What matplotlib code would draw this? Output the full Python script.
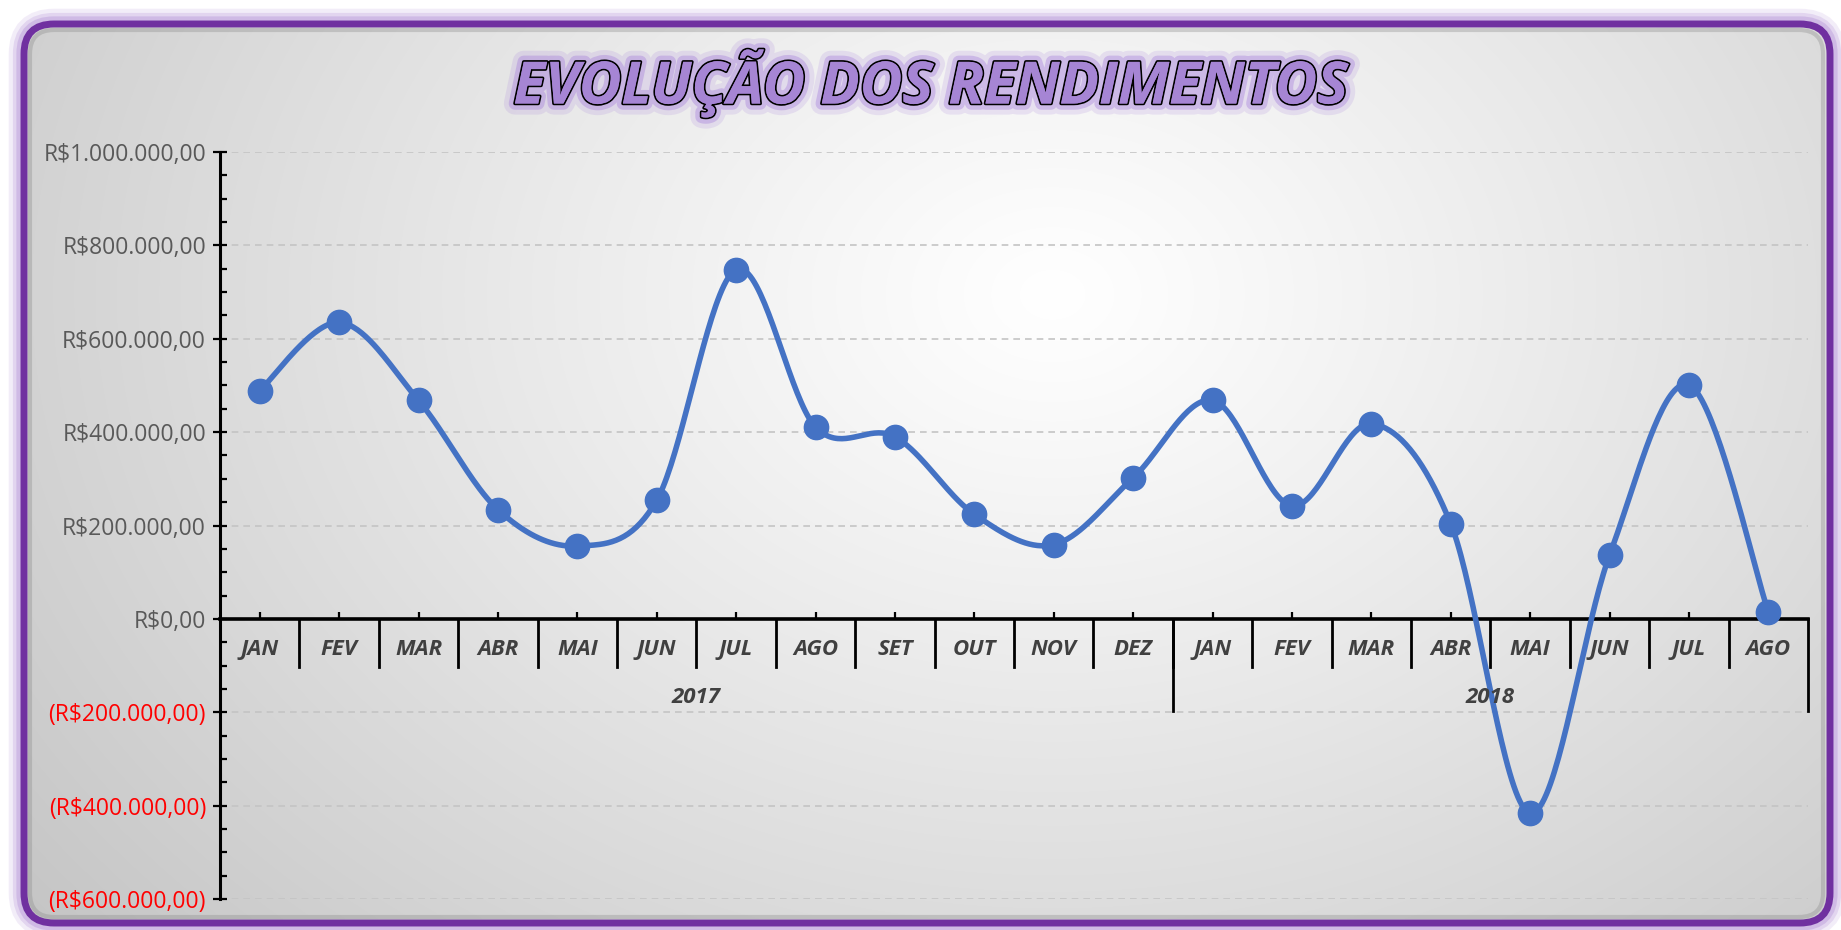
import matplotlib.pyplot as plt
import matplotlib.patheffects as pe
from matplotlib.patches import FancyBboxPatch
from matplotlib.ticker import MultipleLocator, FixedLocator, FuncFormatter
import numpy as np

# dados
meses = ["JAN", "FEV", "MAR", "ABR", "MAI", "JUN", "JUL", "AGO", "SET", "OUT", "NOV", "DEZ",
         "JAN", "FEV", "MAR", "ABR", "MAI", "JUN", "JUL", "AGO"]
anos = ["2017", "2018"]
meses_por_ano = [12, 8]
rendimentos = [489000, 635000, 468000, 234000, 156000, 254000, 748000, 411000, 390000, 224000,
               159000, 302000, 468000, 242000, 418000, 204000, -416000, 136000, 501000, 15000]

plt.rcParams["font.family"] = "Open Sans"

W, H = 1841, 930
fig = plt.figure(figsize=(W / 100, H / 100), dpi=100)
fig.patch.set_facecolor("white")

# fundo: moldura roxa arredondada + painel em degrade
bg = fig.add_axes([0, 0, 1, 1])
bg.set_xlim(0, W)
bg.set_ylim(H, 0)
bg.axis("off")

for lw, a in [(22, 0.12), (16, 0.18), (11, 0.25)]:
    bg.add_patch(FancyBboxPatch((24, 24), 1806, 899, boxstyle="round,pad=0,rounding_size=30",
                                fill=False, edgecolor="#9A6CCB", lw=lw, alpha=a))

painel = FancyBboxPatch((27, 27), 1800, 893, boxstyle="round,pad=0,rounding_size=26",
                        facecolor="#dcdcdc", edgecolor="none", zorder=1)
bg.add_patch(painel)

gy, gx = np.mgrid[0:1:300j, 0:1:600j]
d = np.sqrt(((gx - 0.57) / 0.62) ** 2 + ((gy - 0.3) / 0.95) ** 2)
val = 1.0 - 0.19 * np.clip(d, 0, 1.2) ** 1.1
img = bg.imshow(np.dstack([val, val, val]), extent=(27, 1827, 920, 27), origin="upper",
                aspect="auto", interpolation="bilinear", zorder=2)
img.set_clip_path(painel)

# sombra interna do painel
bg.add_patch(FancyBboxPatch((30, 30), 1793, 887, boxstyle="round,pad=0,rounding_size=24",
                            fill=False, edgecolor="#8a8a8a", lw=3, alpha=0.35, zorder=3))
bg.add_patch(FancyBboxPatch((24, 24), 1806, 899, boxstyle="round,pad=0,rounding_size=30",
                            fill=False, edgecolor="#7030A0", lw=5, zorder=4))

# titulo
fig.text(931 / W, 1 - 84 / H, "EVOLUÇÃO DOS RENDIMENTOS", ha="center", va="center",
         fontsize=42, fontweight="bold", fontstyle="italic",
         color="#A685D4",
         path_effects=[pe.withStroke(linewidth=16, foreground=(0.62, 0.45, 0.85, 0.16)),
                       pe.withStroke(linewidth=9, foreground=(0.62, 0.45, 0.85, 0.35)),
                       pe.withStroke(linewidth=2.5, foreground="black"),
                       pe.Normal()])

# area do grafico
left, right, top, bottom = 220, 1808, 152, 899
ax = fig.add_axes([left / W, 1 - bottom / H, (right - left) / W, (bottom - top) / H])
ax.set_facecolor("none")

n = len(rendimentos)
xs = np.arange(n)
ys = np.array(rendimentos, dtype=float)

# curva suavizada (bezier estilo Excel / Catmull-Rom)
pts = np.column_stack([xs, ys])
curva = []
t = np.linspace(0, 1, 40)[:, None]
for i in range(n - 1):
    p0 = pts[max(i - 1, 0)]
    p1 = pts[i]
    p2 = pts[i + 1]
    p3 = pts[min(i + 2, n - 1)]
    c1 = p1 + (p2 - p0) / 6
    c2 = p2 - (p3 - p1) / 6
    seg = (1 - t) ** 3 * p1 + 3 * (1 - t) ** 2 * t * c1 + 3 * (1 - t) * t ** 2 * c2 + t ** 3 * p2
    curva.append(seg if i == 0 else seg[1:])
curva = np.vstack(curva)

ax.plot(curva[:, 0], curva[:, 1], color="#4472C4", lw=4.0, zorder=4, solid_capstyle="round")
ax.plot(xs, ys, "o", color="#4472C4", ms=17.5, zorder=5)

ax.set_xlim(-0.5, n - 0.5)
ax.set_ylim(-600000, 1000000)

# eixo y
ax.yaxis.set_major_locator(MultipleLocator(200000))
ax.yaxis.set_minor_locator(MultipleLocator(50000))


def moeda(v, pos=None):
    s = f"{abs(v):,.2f}".replace(",", "X").replace(".", ",").replace("X", ".")
    return f"(R${s})" if v < 0 else f"R${s}"


ax.yaxis.set_major_formatter(FuncFormatter(moeda))
ax.tick_params(axis="y", which="major", direction="inout", length=10, width=1.6,
               labelsize=16.5, labelcolor="#595959", pad=5)
ax.tick_params(axis="y", which="minor", direction="in", length=5, width=1.6)
ax.grid(axis="y", which="major", color="#c4c4c4", ls=(0, (4, 3)), lw=1.2)

for sp in ["top", "right"]:
    ax.spines[sp].set_visible(False)
ax.spines["left"].set_linewidth(2.2)
ax.spines["bottom"].set_position(("data", 0))
ax.spines["bottom"].set_linewidth(2.6)
ax.spines["bottom"].set_zorder(3)

# eixo x: marcas nos centros, rotulos desenhados a mao
ax.xaxis.set_major_locator(FixedLocator(xs))
ax.tick_params(axis="x", which="major", direction="in", length=5, width=1.6, labelbottom=False)

py = 1600000 / (bottom - top)  # valor por pixel
for i, m in enumerate(meses):
    ax.text(i, -31 * py, m, ha="center", va="center", fontsize=16, fontweight="bold",
            fontstyle="italic", color="#404040", zorder=6)
for i in range(1, n):
    ax.plot([i - 0.5, i - 0.5], [0, -48 * py], color="black", lw=2, clip_on=False, zorder=3)

ini = 0
limites = [-0.5]
for ano, k in zip(anos, meses_por_ano):
    centro = ini + (k - 1) / 2
    ax.text(centro, -79 * py, ano, ha="center", va="center", fontsize=16, fontweight="bold",
            fontstyle="italic", color="#404040", zorder=6)
    ini += k
    limites.append(ini - 0.5)
for xb in limites[1:]:
    ax.plot([xb, xb], [0, -92 * py], color="black", lw=2, clip_on=False, zorder=3)

fig.canvas.draw()
for lab, v in zip(ax.get_yticklabels(), ax.get_yticks()):
    if v < 0:
        lab.set_color("red")

fig.savefig("out.png", dpi=100)
